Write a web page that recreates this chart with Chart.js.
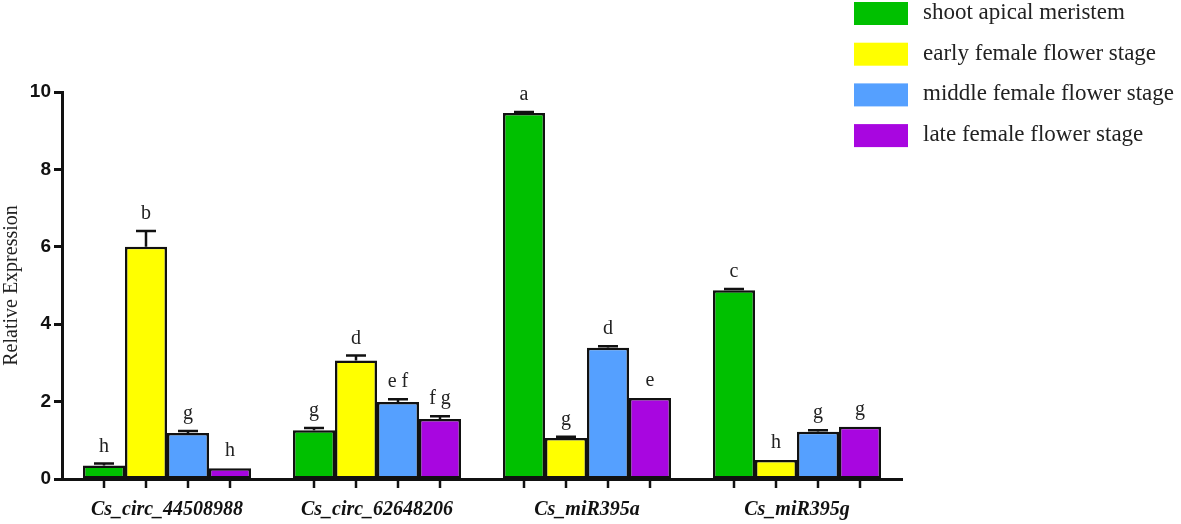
<!DOCTYPE html>
<html>
<head>
<meta charset="utf-8">
<script src="https://cdn.jsdelivr.net/npm/chart.js@4.4.1/dist/chart.umd.min.js"></script>
<style>
  html, body { margin: 0; padding: 0; background: #fff; }
  #wrap { width: 1181px; height: 524px; position: relative; }
</style>
</head>
<body>
<div id="wrap"><canvas id="expr"></canvas></div>
<script>
const genes = ["Cs_circ_44508988", "Cs_circ_62648206", "Cs_miR395a", "Cs_miR395g"];
const yTicks = [0, 2, 4, 6, 8, 10];

const samValues    = [0.35, 1.26, 9.46, 4.88];
const earlyValues  = [6.00, 3.06, 1.06, 0.49];
const middleValues = [1.19, 1.99, 3.39, 1.22];
const lateValues   = [0.28, 1.55, 2.09, 1.35];

const samErr    = [0.05, 0.06, 0.02, 0.03];
const earlyErr  = [0.41, 0.13, 0.03, 0.00];
const middleErr = [0.05, 0.07, 0.04, 0.04];
const lateErr   = [0.00, 0.07, 0.00, 0.00];

const samLetters    = ["h", "g", "a", "c"];
const earlyLetters  = ["b", "d", "g", "h"];
const middleLetters = ["g", "e f", "d", "g"];
const lateLetters   = ["h", "f g", "e", "g"];

const serif = '"Liberation Serif", "DejaVu Serif", serif';

function series(label, data, err, letters, color) {
  return {
    label: label,
    data: data,
    err: err,
    letters: letters,
    backgroundColor: color,
    borderColor: '#111',
    borderWidth: 2.5,
    borderSkipped: false,
    barPercentage: 1.0,
    categoryPercentage: 0.8
  };
}

// error bars, letters, bar ticks and legend
const extras = {
  id: 'extras',
  afterDatasetsDraw(chart) {
    const ctx = chart.ctx;
    const y = chart.scales.y;
    const bottom = chart.chartArea.bottom;
    ctx.save();
    chart.data.datasets.forEach((ds, i) => {
      const meta = chart.getDatasetMeta(i);
      meta.data.forEach((bar, j) => {
        const top = y.getPixelForValue(ds.data[j]);
        const errTop = y.getPixelForValue(ds.data[j] + ds.err[j]);
        ctx.strokeStyle = '#111';
        ctx.lineWidth = 2.5;
        if (ds.err[j] > 0) {
          ctx.beginPath();
          ctx.moveTo(bar.x, top);
          ctx.lineTo(bar.x, errTop);
          ctx.moveTo(bar.x - 10, errTop);
          ctx.lineTo(bar.x + 10, errTop);
          ctx.stroke();
        }
        // tick below axis
        ctx.beginPath();
        ctx.moveTo(bar.x, bottom);
        ctx.lineTo(bar.x, bottom + 9);
        ctx.stroke();
        // letter
        ctx.fillStyle = '#222';
        ctx.font = '20px ' + serif;
        ctx.textAlign = 'center';
        ctx.textBaseline = 'alphabetic';
        ctx.fillText(ds.letters[j], bar.x, Math.min(top, errTop) - 12);
      });
    });
    // legend
    ctx.font = '23px ' + serif;
    ctx.textAlign = 'left';
    ctx.textBaseline = 'middle';
    chart.data.datasets.forEach((ds, i) => {
      const ry = 2 + i * 40.7;
      ctx.fillStyle = ds.backgroundColor;
      ctx.fillRect(854, ry, 54, 23);
      ctx.fillStyle = '#222';
      ctx.fillText(ds.label, 923, ry + 11);
    });
    ctx.restore();
  }
};

new Chart(document.getElementById('expr'), {
  type: 'bar',
  data: {
    labels: genes,
    datasets: [
      series("shoot apical meristem", samValues, samErr, samLetters, 'rgb(0, 192, 0)'),
      series("early female flower stage", earlyValues, earlyErr, earlyLetters, 'rgb(255, 255, 0)'),
      series("middle female flower stage", middleValues, middleErr, middleLetters, 'rgb(85, 160, 255)'),
      series("late female flower stage", lateValues, lateErr, lateLetters, 'rgb(168, 6, 224)')
    ]
  },
  options: {
    responsive: true,
    maintainAspectRatio: false,
    animation: false,
    layout: { padding: { top: 92, right: 279, bottom: 0, left: 0 } },
    scales: {
      x: {
        grid: { display: false, drawTicks: false },
        border: { color: '#111', width: 3 },
        ticks: {
          padding: 19,
          color: '#111',
          font: { family: serif, size: 20, style: 'italic', weight: 'bold' }
        },
        afterFit(scale) { scale.height = 45; }
      },
      y: {
        min: 0,
        max: 10,
        afterBuildTicks(scale) { scale.ticks = yTicks.map(v => ({ value: v })); },
        grid: { drawOnChartArea: false, tickLength: 8, tickWidth: 3, color: '#111' },
        border: { color: '#111', width: 3 },
        ticks: {
          padding: 3,
          color: '#111',
          font: { family: '"Liberation Sans", Arial, sans-serif', size: 19, weight: 'bold' }
        },
        title: {
          display: true,
          text: 'Relative Expression',
          color: '#222',
          padding: { top: 0, bottom: 4 },
          font: { family: serif, size: 20 }
        },
        afterFit(scale) { scale.width = 62; }
      }
    },
    plugins: {
      legend: { display: false },
      tooltip: { enabled: false }
    }
  },
  plugins: [extras]
});
</script>
</body>
</html>
